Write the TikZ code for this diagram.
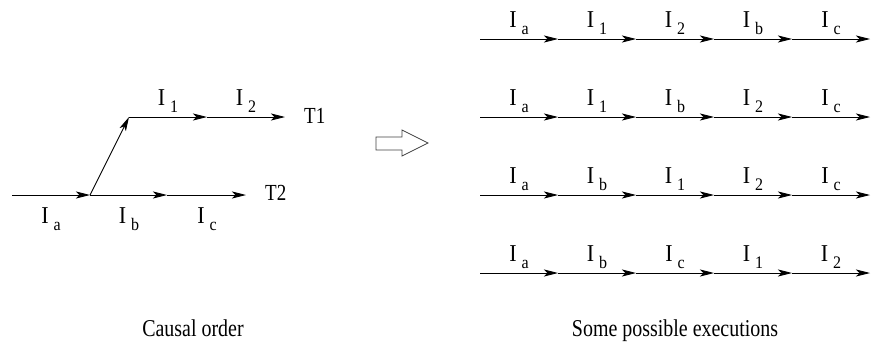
\documentclass[tikz,border=0pt]{standalone}
\usepackage{fontspec}
\setmainfont{Liberation Serif}
\usetikzlibrary{arrows.meta,positioning}

% instruction name with a dropped index, as in the figure
\newcommand{\instr}[1]{\scalebox{1}[1.1]{I}\hspace{5pt}\raisebox{-7pt}{\fontsize{16}{16}\selectfont\scalebox{1}[1.1]{#1}}}
\newcommand{\tall}[1]{\scalebox{0.95}[1.15]{#1}}

\begin{document}
\begin{tikzpicture}[x=1pt,y=-1pt,
    seg/.style={-{Stealth[length=14pt,width=7pt,inset=3.5pt]},line width=0.9pt},
    instrlbl/.style={font=\fontsize{22}{22}\selectfont,inner sep=0pt,anchor=base},
    threadlbl/.style={font=\fontsize{20}{20}\selectfont,inner sep=0pt,anchor=west},
    caption/.style={font=\fontsize{21}{21}\selectfont,inner sep=0pt,anchor=base},
    implies/.style={draw=black!75,line width=0.7pt,line join=miter}
  ]
  \useasboundingbox (0,0) rectangle (872,359);

  % causal order: thread T2 below, thread T1 forked from it
  \coordinate (t2p0) at (12,195);
  \coordinate (t2p1) at (90,195);
  \coordinate (t2p2) at (167,195);
  \coordinate (t2p3) at (246,195);
  \coordinate (t1p0) at (129,117);
  \coordinate (t1p1) at (207,117);
  \coordinate (t1p2) at (285,117);

  \draw[seg] (t2p0) -- (t2p1);
  \draw[seg] (t2p1) -- (t2p2);
  \draw[seg] (t2p2) -- (t2p3);
  \draw[seg] (t2p1) -- (t1p0);  % fork
  \draw[seg] (t1p0) -- (t1p1);
  \draw[seg] (t1p1) -- (t1p2);

  \node[instrlbl] (ia) at (51,223)  {\instr{a}};
  \node[instrlbl] (ib) at (129,223) {\instr{b}};
  \node[instrlbl] (ic) at (207,223) {\instr{c}};
  \node[instrlbl] (i1) at (168,105) {\instr{1}};
  \node[instrlbl] (i2) at (246,105) {\instr{2}};

  \node[threadlbl] (T1) at (304,116) {\tall{T1}};
  \node[threadlbl] (T2) at (265,193) {\tall{T2}};

  % hollow arrow in between
  \draw[implies] (376,137) -- (402,137) -- (402,130) -- (428,143)
    -- (402,156) -- (402,150) -- (376,150) -- cycle;

  % possible executions, one per row
  \foreach \r/\y/\la/\lb/\lc/\ld/\le in {1/39/a/1/2/b/c,
                                         2/117/a/1/b/2/c,
                                         3/195/a/b/1/2/c,
                                         4/273/a/b/c/1/2}{
    \foreach \i in {0,...,5}
      \coordinate (r\r p\i) at (480+78*\i,\y);
    \foreach \i in {1,...,5}{
      \pgfmathtruncatemacro\j{\i-1}
      \draw[seg] (r\r p\j) -- (r\r p\i);
    }
    \foreach \i/\s in {1/\la,2/\lb,3/\lc,4/\ld,5/\le}
      \node[instrlbl] (r\r l\i) at (441+78*\i,\y-12) {\instr{\s}};
  }

  \node[caption] (cap1) at (193,336) {\tall{Causal order}};
  \node[caption] (cap2) at (675,336) {\tall{Some possible executions}};
\end{tikzpicture}
\end{document}
